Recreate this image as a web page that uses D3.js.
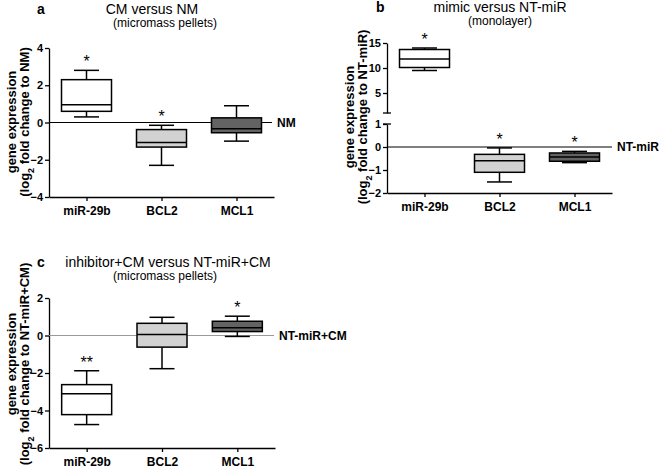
<!DOCTYPE html>
<html>
<head>
<meta charset="utf-8">
<script src="https://cdn.jsdelivr.net/npm/d3@7"></script>
<style>
  body { margin: 0; background: #fff; }
  svg { font-family: "Liberation Sans", Arial, sans-serif; }
  .tick text { font-weight: bold; }
</style>
</head>
<body>
<div id="chart"></div>
<script>
// categories
var genes = ["miR-29b", "BCL2", "MCL1"];

// box stats per gene: [min, q1, median, q3, max]
var statsA = [[0.3, 0.6, 0.95, 2.3, 2.8], [-2.3, -1.32, -1.08, -0.38, -0.15], [-1.0, -0.55, -0.33, 0.25, 0.9]];
var statsB = [[9.5, 10.1, 11.8, 13.7, 14.0], [-1.52, -1.1, -0.6, -0.32, -0.04], [-0.68, -0.62, -0.43, -0.26, -0.19]];
var statsC = [[-4.75, -4.22, -3.1, -2.62, -1.88], [-1.77, -0.62, 0.05, 0.65, 0.97], [-0.05, 0.21, 0.41, 0.76, 1.03]];

// significance marks
var sigA = ["*", "*", ""];
var sigB = ["*", "*", "*"];
var sigC = ["**", "", "*"];

// tick labels
var ticksA = [-4, -2, 0, 2, 4];
var ticksBUpper = [5, 10, 15];
var ticksBLower = [-2, -1, 0, 1];
var ticksC = [-6, -4, -2, 0, 2];

var fills = ["#ffffff", "#d2d2d2", "#636363"];

var svg = d3.select("#chart").append("svg")
    .attr("width", 660)
    .attr("height", 469);

// one panel = x scale + function that maps a value to y
function drawPanel(p) {
    var g = svg.append("g");

    var x = d3.scalePoint().domain(genes).range(p.xRange).padding(0.5);

    // y axes (one or two segments)
    p.yAxes.forEach(function(ax) {
        var a = g.append("g")
            .attr("transform", "translate(" + p.xRange[0] + ",0)")
            .call(d3.axisLeft(ax.scale).tickValues(ax.ticks).tickFormat(d3.format("d"))
                .tickSize(4).tickSizeOuter(0).tickPadding(2));
        a.selectAll("text").style("font-size", "11px");
        a.selectAll("path, line").attr("stroke", "#000").attr("stroke-width", 1.3);
    });

    // x axis
    var xa = g.append("g")
        .attr("transform", "translate(0," + p.xAxisY + ")")
        .call(d3.axisBottom(x).tickSize(4).tickSizeOuter(0).tickPadding(5));
    xa.selectAll("text").style("font-size", "12px");
    xa.selectAll("path, line").attr("stroke", "#000").attr("stroke-width", 1.3);

    // zero reference line
    g.append("line")
        .attr("x1", p.xRange[0]).attr("x2", p.refEnd)
        .attr("y1", p.y(0)).attr("y2", p.y(0))
        .attr("stroke", p.refColor).attr("stroke-width", 1);
    g.append("text")
        .attr("x", p.refEnd + 5).attr("y", p.y(0))
        .attr("dy", "0.36em")
        .style("font-size", "12px").style("font-weight", "bold")
        .text(p.refLabel);

    // boxes
    var bw = 50, cw = 25;
    var box = g.selectAll(".box").data(p.stats).enter().append("g");
    box.each(function(d, i) {
        var b = d3.select(this), cx = x(genes[i]);
        // whiskers
        b.append("line").attr("x1", cx).attr("x2", cx).attr("y1", p.y(d[0])).attr("y2", p.y(d[1]));
        b.append("line").attr("x1", cx).attr("x2", cx).attr("y1", p.y(d[3])).attr("y2", p.y(d[4]));
        b.append("line").attr("x1", cx - cw / 2).attr("x2", cx + cw / 2).attr("y1", p.y(d[0])).attr("y2", p.y(d[0]));
        b.append("line").attr("x1", cx - cw / 2).attr("x2", cx + cw / 2).attr("y1", p.y(d[4])).attr("y2", p.y(d[4]));
        b.append("rect")
            .attr("x", cx - bw / 2).attr("width", bw)
            .attr("y", p.y(d[3])).attr("height", p.y(d[1]) - p.y(d[3]))
            .attr("fill", fills[i]);
        b.append("line").attr("x1", cx - bw / 2).attr("x2", cx + bw / 2).attr("y1", p.y(d[2])).attr("y2", p.y(d[2]));
        b.selectAll("line, rect").attr("stroke", "#000").attr("stroke-width", 1.5);
        if (p.sig[i]) {
            b.append("text")
                .attr("x", cx).attr("y", p.y(d[4]) - 12 + 9)
                .attr("text-anchor", "middle")
                .style("font-size", "16px")
                .text(p.sig[i]);
        }
    });

    // titles
    g.append("text").attr("x", p.letterX).attr("y", p.titleY)
        .style("font-size", "14px").style("font-weight", "bold").text(p.letter);
    g.append("text").attr("x", p.titleX).attr("y", p.titleY)
        .attr("text-anchor", "middle").style("font-size", "14px").text(p.title);
    g.append("text").attr("x", p.subX).attr("y", p.titleY + 13)
        .attr("text-anchor", "middle").style("font-size", "12px").text(p.sub);

    // y label
    var yl = g.append("g")
        .attr("transform", "translate(" + (p.xRange[0] - 33) + "," + p.yLabelMid + ") rotate(-90)")
        .style("font-size", "13px").style("font-weight", "bold")
        .attr("text-anchor", "middle");
    yl.append("text").attr("y", 0).text("gene expression");
    var t2 = yl.append("text").attr("y", 13);
    t2.append("tspan").text("(log");
    t2.append("tspan").attr("baseline-shift", "sub").style("font-size", "9px").text("2");
    t2.append("tspan").text(" fold change to " + p.refLabel + ")");
}

// panel a
var yA = d3.scaleLinear().domain([-4, 4]).range([197, 48]);
drawPanel({
    xRange: [49, 274], xAxisY: 197,
    yAxes: [{scale: yA, ticks: ticksA}],
    y: yA, stats: statsA, sig: sigA,
    refEnd: 272, refColor: "#000", refLabel: "NM",
    letter: "a", letterX: 37, title: "CM versus NM", titleX: 152, sub: "(micromass pellets)", subX: 165, titleY: 14,
    yLabelMid: 122
});

// panel b (broken y axis)
var yBUp = d3.scaleLinear().domain([1, 15]).range([113, 43]);
var yBLow = d3.scaleLinear().domain([-2, 1]).range([193, 124]);
var yB = function(v) { return v > 1 ? yBUp(v) : yBLow(v); };
drawPanel({
    xRange: [387, 612], xAxisY: 193,
    yAxes: [{scale: yBUp, ticks: ticksBUpper}, {scale: yBLow, ticks: ticksBLower}],
    y: yB, stats: statsB, sig: sigB,
    refEnd: 612, refColor: "#000", refLabel: "NT-miR",
    letter: "b", letterX: 376, title: "mimic versus NT-miR", titleX: 500, sub: "(monolayer)", subX: 500, titleY: 12,
    yLabelMid: 117
});
// break caps
[113, 124].forEach(function(yy) {
    svg.append("line").attr("x1", 383).attr("x2", 391).attr("y1", yy).attr("y2", yy)
        .attr("stroke", "#000").attr("stroke-width", 1.3);
});

// panel c
var yC = d3.scaleLinear().domain([-6, 2]).range([448, 298]);
drawPanel({
    xRange: [49, 275], xAxisY: 448,
    yAxes: [{scale: yC, ticks: ticksC}],
    y: yC, stats: statsC, sig: sigC,
    refEnd: 274, refColor: "#999", refLabel: "NT-miR+CM",
    letter: "c", letterX: 37, title: "inhibitor+CM versus NT-miR+CM", titleX: 168, sub: "(micromass pellets)", subX: 165, titleY: 267,
    yLabelMid: 364
});
</script>
</body>
</html>
